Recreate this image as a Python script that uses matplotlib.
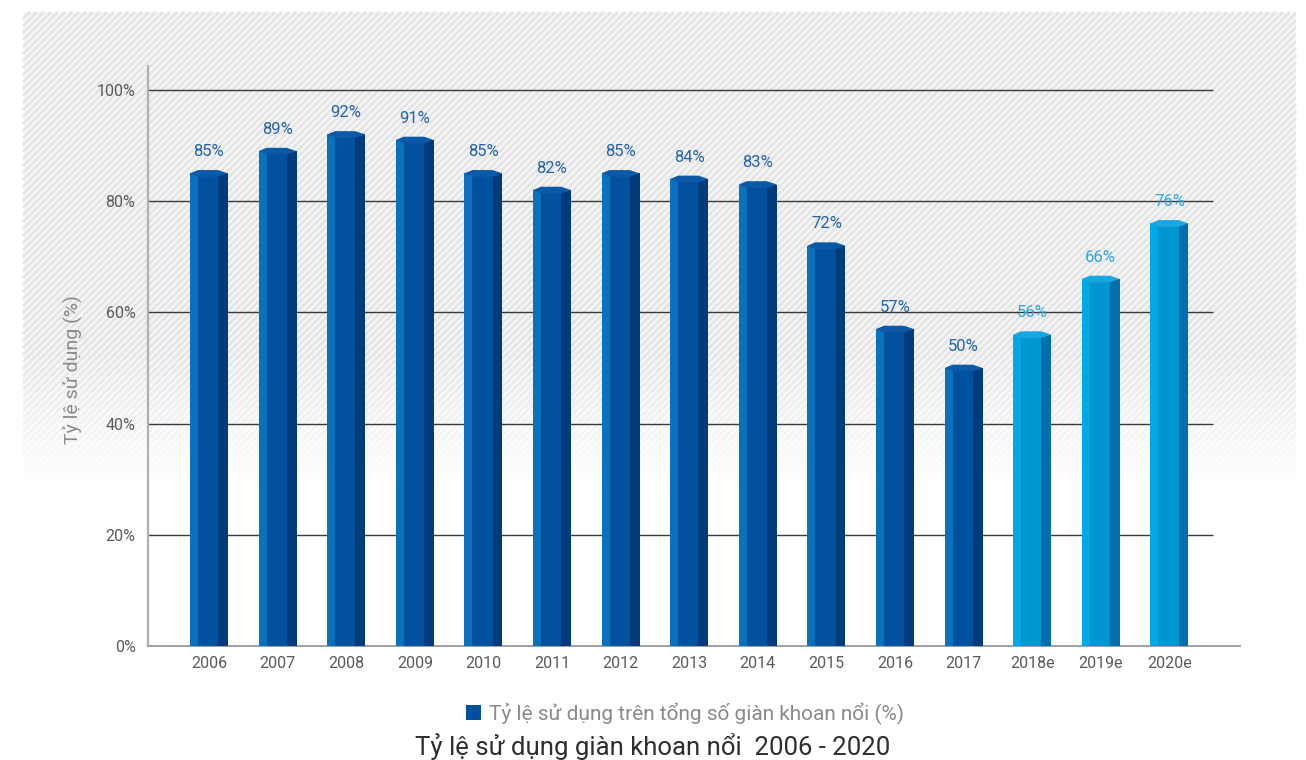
import numpy as np
import matplotlib
matplotlib.use("Agg")
import matplotlib.pyplot as plt
from matplotlib.patches import Rectangle, Polygon
from matplotlib.collections import LineCollection

plt.rcParams['font.family'] = ['Roboto', 'DejaVu Sans']

years = ["2006", "2007", "2008", "2009", "2010", "2011", "2012", "2013",
         "2014", "2015", "2016", "2017", "2018e", "2019e", "2020e"]
values = [85, 89, 92, 91, 85, 82, 85, 84, 83, 72, 57, 50, 56, 66, 76]
is_estimate = [False] * 12 + [True] * 3
yticks = [0, 20, 40, 60, 80, 100]
ylabel = "Tỷ lệ sử dụng (%)"
legend_label = "Tỷ lệ sử dụng trên tổng số giàn khoan nổi (%)"
title = "Tỷ lệ sử dụng giàn khoan nổi  2006 - 2020"

W, H = 1306, 760
fig = plt.figure(figsize=(W / 100, H / 100), dpi=100)

# background striped panel (decoration)
bg = fig.add_axes([0, 0, 1, 1], zorder=-5)
bg.set_xlim(0, W)
bg.set_ylim(H, 0)
bg.axis('off')
px0, py0, pw, ph = 23, 12, 1273, 470
bg.add_patch(Rectangle((px0, py0), pw, ph, facecolor='#f6f6f6',
                       edgecolor='none', lw=0))
period = 7.0
yb, yt = py0 + ph, py0
segs = []
for s in np.arange(px0 - ph, px0 + pw, period):
    xa, ya = s, yb
    xb, yb2 = s + ph, yt
    if xa < px0:
        ya = yb - (px0 - xa)
        xa = px0
    if xb > px0 + pw:
        yb2 = yt + (xb - (px0 + pw))
        xb = px0 + pw
    if xb > xa:
        segs.append([(xa, ya), (xb, yb2)])
lc = LineCollection(segs, colors='#e4e4e4', linewidths=2.0, capstyle='butt')
bg.add_collection(lc)
grad = np.ones((200, 1, 4))
grad[:, 0, 3] = np.clip(np.linspace(-0.15, 1.0, 200), 0, 1)
bg.imshow(grad, extent=[20, 1300, 486, 320], aspect='auto', zorder=3,
          interpolation='bilinear')
bg.set_xlim(0, W)
bg.set_ylim(H, 0)

# main axes
x0, x1 = 148, 1240
ytop, ybot = 66, 646
ax = fig.add_axes([x0 / W, 1 - ybot / H, (x1 - x0) / W, (ybot - ytop) / H])
ax.patch.set_alpha(0)
spacing = 68.6
xmin = (x0 - 209) / spacing
xmax = (x1 - 209) / spacing
ax.set_xlim(xmin, xmax)
ymax = 100 + (90 - ytop) / ((ybot - 90) / 100)
ax.set_ylim(0, ymax)

grid_end = (1213 - 209) / spacing
ax.hlines(yticks[1:], xmin, grid_end, colors='#3a3a3a', lw=1.0, zorder=1)

for s in ['top', 'right']:
    ax.spines[s].set_visible(False)
ax.spines['left'].set_color('#b0b0b0')
ax.spines['left'].set_linewidth(1.6)
ax.spines['bottom'].set_color('#a0a0a0')
ax.spines['bottom'].set_linewidth(1.4)

x = np.arange(len(years))
w = 0.555
fl, fm, fr = 0.21, 0.53, 0.26
d = 0.6
for i, (v, est) in enumerate(zip(values, is_estimate)):
    if est:
        cl, cm, cr, cc, tc = '#00a9e6', '#0096d2', '#006fae', '#1aa6de', '#2aa8e0'
    else:
        cl, cm, cr, cc, tc = '#0a72bd', '#02519f', '#023b7c', '#0b5aa8', '#2463ab'
    L = i - w / 2
    ax.bar(L, v, width=w * fl, align='edge', color=cl, zorder=3, lw=0)
    ax.bar(L + w * fl, v, width=w * fm, align='edge', color=cm, zorder=3, lw=0)
    ax.bar(L + w * (fl + fm), v, width=w * fr, align='edge', color=cr, zorder=3, lw=0)
    R = i + w / 2
    cap = Polygon([(L, v), (L + w * fl, v + d), (R - w * fr, v + d), (R, v),
                   (R - w * fr, v - d), (L + w * fl, v - d)], closed=True,
                  facecolor=cc, edgecolor='none', zorder=4)
    ax.add_patch(cap)
    ax.text(i, v + 3.9, f"{v}%", ha='center', va='center', fontsize=12,
            color=tc, zorder=5)

ax.set_xticks(x)
ax.set_xticklabels(years)
ax.set_yticks(yticks)
ax.set_yticklabels([f"{t}%" for t in yticks])
ax.tick_params(axis='both', length=0, labelsize=11.5, labelcolor='#5a5a5a')
ax.tick_params(axis='y', pad=9)
ax.tick_params(axis='x', pad=7)

fig.text(72 / W, 1 - 370 / H, ylabel, rotation=90, ha='center', va='center',
         fontsize=14, color='#8a8a8a')

# legend
fig.patches.append(Rectangle((466 / W, 1 - 720 / H), 15 / W, 15 / H,
                             transform=fig.transFigure, facecolor='#0050a0',
                             edgecolor='none', figure=fig))
fig.text(489 / W, 1 - 714 / H, legend_label, ha='left', va='center',
         fontsize=15, color='#8a8a8a')
fig.text(653 / W, 1 - 746 / H, title, ha='center', va='center',
         fontsize=18.5, color='#2e2e2e')

fig.savefig("out.png", dpi=100)
